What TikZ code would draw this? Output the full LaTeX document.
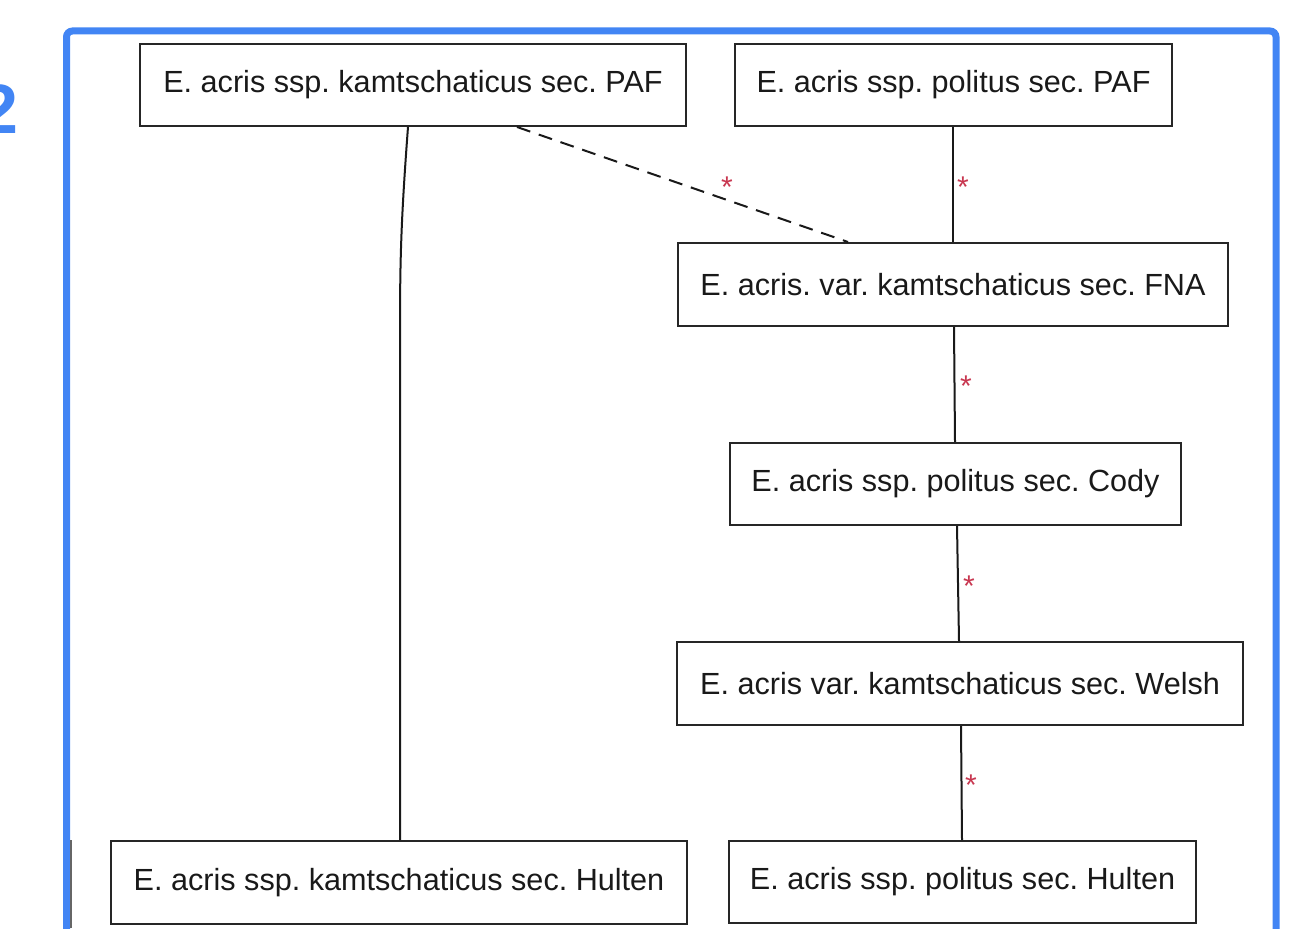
\documentclass[tikz,border=0pt]{standalone}
\usepackage{fontspec}
\setmainfont{Liberation Sans}
\definecolor{frameblue}{RGB}{66,133,244}
\definecolor{starred}{RGB}{200,55,80}
\tikzset{
  taxon/.style={draw=black!85, line width=2pt, inner sep=0pt, font=\fontsize{30.6}{36}\selectfont, text=black!90},
  conn/.style={line width=2pt, draw=black!90},
  star/.style={text=starred, font=\fontsize{30}{32}\selectfont, inner sep=0pt}
}
\begin{document}
\frenchspacing
\begin{tikzpicture}[x=1pt,y=-1pt]
\useasboundingbox (0,0) rectangle (1297,928);
% frame
\draw[frameblue, line width=7pt, rounded corners=6pt] (66.5,940) -- (66.5,31) -- (1276,31) -- (1276,940);
\draw[black!60, line width=1.2pt] (71,840) -- (71,928);
\node[anchor=base east, text=frameblue, font=\fontsize{70}{80}\selectfont\bfseries, inner sep=0pt] (num) at (19,134) {2};
% nodes
\node[taxon, minimum width=546pt, minimum height=82pt] (kpaf) at (413,85) {E. acris ssp. kamtschaticus sec. PAF};
\node[taxon, minimum width=437pt, minimum height=82pt] (ppaf) at (953.5,85) {E. acris ssp. politus sec. PAF};
\node[taxon, minimum width=550pt, minimum height=83pt] (fna) at (953,284.5) {E. acris. var. kamtschaticus sec. FNA};
\node[taxon, minimum width=451pt, minimum height=82pt] (cody) at (955.5,484) {E. acris ssp. politus sec. Cody};
\node[taxon, minimum width=566pt, minimum height=83pt] (welsh) at (960,683.5) {E. acris var. kamtschaticus sec. Welsh};
\node[taxon, minimum width=576pt, minimum height=83pt] (khul) at (399,882.5) {E. acris ssp. kamtschaticus sec. Hulten};
\node[taxon, minimum width=467pt, minimum height=82pt] (phul) at (962.5,882) {E. acris ssp. politus sec. Hulten};
% connectors
\draw[conn] (kpaf.south -| 408,0) .. controls (401,220) and (400,260) .. (400,330) -- (khul.north -| 400,0);
\draw[conn, dashed, dash pattern=on 14pt off 9pt] (kpaf.south -| 517,0) -- (fna.north -| 848,0);
\draw[conn] (ppaf.south -| 953,0) -- (fna.north -| 953,0);
\draw[conn] (fna.south -| 954,0) -- (cody.north -| 955,0);
\draw[conn] (cody.south -| 957,0) -- (welsh.north -| 959,0);
\draw[conn] (welsh.south -| 961,0) -- (phul.north -| 962,0);
% stars
\node[star] (s1) at (727,187) {*};
\node[star] (s2) at (963,187) {*};
\node[star] (s3) at (966,386) {*};
\node[star] (s4) at (969,586) {*};
\node[star] (s5) at (971,785) {*};
\end{tikzpicture}
\end{document}
